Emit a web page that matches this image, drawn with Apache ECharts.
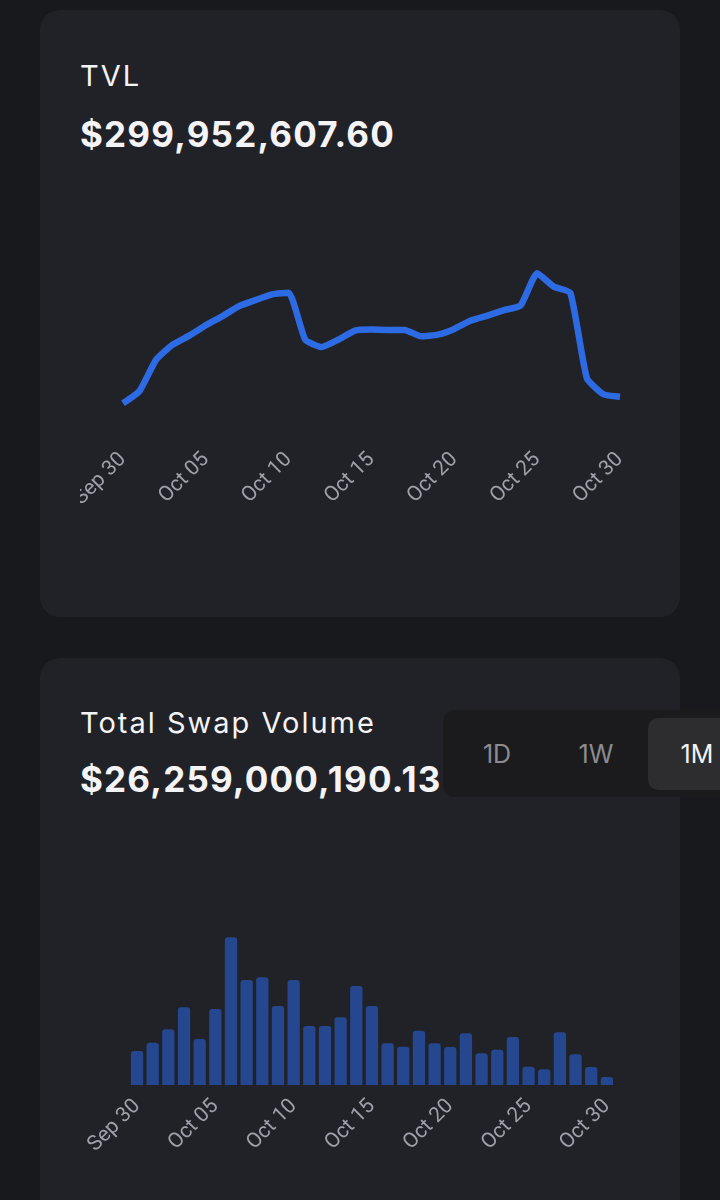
<!DOCTYPE html>
<html>
<head>
<meta charset="utf-8">
<script src="https://cdn.jsdelivr.net/npm/echarts@6/dist/echarts.min.js"></script>
<style>
  html, body { margin: 0; padding: 0; width: 720px; height: 1200px; overflow: hidden; background: #18191d; font-family: Inter, "Noto Sans", sans-serif; }
  .card { position: absolute; left: 40px; width: 640px; background: #212227; border-radius: 20px; }
  .t { position: absolute; left: 80px; line-height: 1; color: #f4f4f6; white-space: nowrap; }
  .title { font-size: 29px; font-weight: 400; letter-spacing: 2px; }
  .value { font-size: 35px; font-weight: 700; letter-spacing: 1.2px; }
  .chart { position: absolute; left: 80px; width: 560px; }
  .seg { position: absolute; left: 443px; top: 710px; width: 300px; height: 87px; background: #1b1b1d; border-radius: 12px; }
  .sel { position: absolute; left: 648px; top: 718px; width: 100px; height: 72px; background: #2d2d30; border-radius: 10px; }
  .btn { position: absolute; top: 754px; transform: translate(-50%, -50%); font-size: 25px; line-height: 1; font-weight: 400; white-space: nowrap; }
</style>
</head>
<body>
<div class="card" style="top:10px;height:607px;"></div>
<div class="card" style="top:658px;height:600px;"></div>

<div class="t title" style="top:61px;">TVL</div>
<div class="t value" style="top:117px;">$299,952,607.60</div>
<div id="tvl" class="chart" style="top:170px;height:400px;"></div>

<div class="t title" style="top:708px;">Total Swap Volume</div>
<div class="t value" style="top:762px;">$26,259,000,190.13</div>
<div id="vol" class="chart" style="top:820px;height:380px;"></div>

<div class="seg"></div>
<div class="sel"></div>
<div class="btn" style="left:497px;color:#8c8c90;">1D</div>
<div class="btn" style="left:596px;color:#8c8c90;">1W</div>
<div class="btn" style="left:697px;color:#f2f2f4;">1M</div>

<script>
// Dates (category axis tick labels)
const dates = ['Sep 30','Oct 01','Oct 02','Oct 03','Oct 04','Oct 05','Oct 06','Oct 07','Oct 08','Oct 09',
  'Oct 10','Oct 11','Oct 12','Oct 13','Oct 14','Oct 15','Oct 16','Oct 17','Oct 18','Oct 19',
  'Oct 20','Oct 21','Oct 22','Oct 23','Oct 24','Oct 25','Oct 26','Oct 27','Oct 28','Oct 29','Oct 30'];

// TVL in millions USD (estimated)
const tvlValues = [293.4, 305.7, 336.7, 351.7, 360.7, 371.0, 380.0, 390.0, 396.0, 401.7,
  403.4, 356.7, 349.4, 356.7, 365.7, 366.7, 366.4, 366.4, 360.0, 361.7,
  367.4, 375.7, 380.7, 386.0, 390.7, 422.7, 409.4, 403.4, 318.4, 302.4, 299.95];

// Daily swap volume in millions USD (estimated)
const volumeValues = [204, 254, 334, 466, 276, 456, 886, 630, 646, 474,
  630, 354, 354, 406, 594, 474, 250, 230, 326, 250,
  228, 310, 190, 212, 288, 110, 94, 316, 184, 108, 48];

const labelStyle = { color: '#9ea1aa', fontSize: 21, fontFamily: 'Roboto', rotate: 45, interval: 4 };

const tvlChart = echarts.init(document.getElementById('tvl'), null, { renderer: 'canvas' });
tvlChart.setOption({
  animation: false,
  grid: { left: 43, right: 20, top: 103.3, bottom: 166.7, containLabel: false, outerBoundsMode: 'none' },
  xAxis: {
    type: 'category', data: dates, boundaryGap: false,
    axisLine: { show: false }, axisTick: { show: false }, splitLine: { show: false },
    axisLabel: Object.assign({ margin: 53 }, labelStyle)
  },
  yAxis: { type: 'value', min: 'dataMin', max: 'dataMax', show: false, splitLine: { show: false } },
  series: [{
    type: 'line', data: tvlValues, showSymbol: false, smooth: 0.15,
    lineStyle: { color: '#2d6be4', width: 6.5, join: 'round', cap: 'butt' }
  }]
});

const volChart = echarts.init(document.getElementById('vol'), null, { renderer: 'canvas' });
volChart.setOption({
  animation: false,
  grid: { left: 49.2, right: 25.3, top: 117.3, bottom: 115, containLabel: false, outerBoundsMode: 'none' },
  xAxis: {
    type: 'category', data: dates, boundaryGap: true,
    axisLine: { show: false }, axisTick: { show: false }, splitLine: { show: false },
    axisLabel: Object.assign({ margin: 18 }, labelStyle)
  },
  yAxis: { type: 'value', min: 0, max: 'dataMax', show: false, splitLine: { show: false } },
  series: [{
    type: 'bar', data: volumeValues, barWidth: 12.3,
    itemStyle: { color: '#24478f', borderRadius: [3, 3, 0, 0] }
  }]
});
</script>
</body>
</html>
